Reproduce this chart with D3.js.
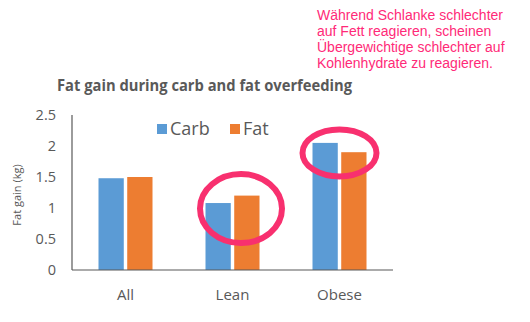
<!DOCTYPE html>
<html><head><meta charset="utf-8">
<script src="https://cdn.jsdelivr.net/npm/d3@7/dist/d3.min.js"></script>
<style>body{margin:0;background:#fff}svg{display:block}</style>
</head><body>
<svg id="c" width="530" height="322"></svg>
<script>
const categories = ["All", "Lean", "Obese"];
const seriesNames = ["Carb", "Fat"];
const carbValues = [1.48, 1.08, 2.05];
const fatValues = [1.50, 1.20, 1.90];
const yTicks = [0, 0.5, 1, 1.5, 2, 2.5];
const titleText = "Fat gain during carb and fat overfeeding";
const yLabel = "Fat gain (kg)";
const noteLines = ["Während Schlanke schlechter", "auf Fett reagieren, scheinen", "Übergewichtige schlechter auf", "Kohlenhydrate zu reagieren."];

(function () {
const colors = {Carb: "#5b9bd5", Fat: "#ed7d31"};
const pink = "#f8306f";
const grey = "#595959";
const svg = d3.select("#c");
const mLeft = 72, mRight = 393, mTop = 115, mBottom = 270;

const x = d3.scaleBand().domain(categories).range([mLeft, mRight]).paddingInner(0).paddingOuter(0);
const y = d3.scaleLinear().domain([0, 2.5]).range([mBottom, mTop]);
const xs = d3.scaleBand().domain(seriesNames).range([0, 54]).paddingInner(0.12);

const data = categories.map((c, i) => ({cat: c, Carb: carbValues[i], Fat: fatValues[i]}));

const g = svg.append("g");
g.selectAll("g.cat").data(data).join("g")
  .attr("transform", d => `translate(${x(d.cat) + x.bandwidth()/2 - 27},0)`)
  .selectAll("rect").data(d => seriesNames.map(s => ({s, v: d[s]}))).join("rect")
  .attr("x", d => xs(d.s)).attr("width", xs.bandwidth())
  .attr("y", d => y(d.v)).attr("height", d => y(0) - y(d.v))
  .attr("fill", d => colors[d.s]);

const yAxis = d3.axisLeft(y).tickValues(yTicks).tickSize(0).tickPadding(16).tickFormat(d3.format("~g"));
const ya = svg.append("g").attr("transform", `translate(${mLeft},0)`).call(yAxis);
ya.select(".domain").attr("stroke", grey).attr("stroke-width", 1.2).attr("d", `M0,${mTop}V${mBottom}`);
ya.selectAll("text").attr("fill", grey).style("font-family", "Open Sans").style("font-size", "14.5px");

const xAxis = d3.axisBottom(x).tickSize(0).tickPadding(19);
const xa = svg.append("g").attr("transform", `translate(0,${mBottom})`).call(xAxis);
xa.select(".domain").attr("stroke", grey).attr("stroke-width", 1.2).attr("d", `M${mLeft},0H${mRight}`);
xa.selectAll("text").attr("fill", grey).style("font-family", "Open Sans").style("font-size", "15px");

svg.append("text").attr("transform", "translate(21,195) rotate(-90)")
  .attr("text-anchor", "middle").attr("fill", grey)
  .style("font-family", "Open Sans").style("font-size", "11px").text(yLabel);

svg.append("text").attr("x", 57).attr("y", 91).attr("fill", grey)
  .attr("textLength", 295).attr("lengthAdjust", "spacingAndGlyphs")
  .style("font-family", "Open Sans").style("font-weight", "bold").style("font-size", "16px")
  .text(titleText);

const leg = svg.append("g");
const legX = [157, 230];
seriesNames.forEach((s, i) => {
  leg.append("rect").attr("x", legX[i]).attr("y", 124).attr("width", 10).attr("height", 10).attr("fill", colors[s]);
  leg.append("text").attr("x", legX[i] + 13).attr("y", 135).attr("fill", grey)
    .style("font-family", "Open Sans").style("font-size", "18px").text(s);
});

const ell = [{cat: "Lean", rx: 41, ry: 34.5, dx: 8.5, dy: 13}, {cat: "Obese", rx: 37, ry: 23.5, dx: 0, dy: 10}];
ell.forEach(e => {
  const i = categories.indexOf(e.cat);
  const cx = x(e.cat) + x.bandwidth()/2 + e.dx;
  const cy = y(Math.max(carbValues[i], fatValues[i])) + e.dy;
  svg.append("ellipse").attr("cx", cx).attr("cy", cy).attr("rx", e.rx).attr("ry", e.ry)
    .attr("fill", "none").attr("stroke", pink).attr("stroke-width", 6);
});

const note = svg.append("text").attr("fill", "#ff2a78")
  .style("font-family", "Liberation Sans, Arial, sans-serif").style("font-size", "14px");
noteLines.forEach((l, i) => note.append("tspan").attr("x", 317).attr("y", 20 + i * 16).text(l));
})();
</script>
</body></html>
